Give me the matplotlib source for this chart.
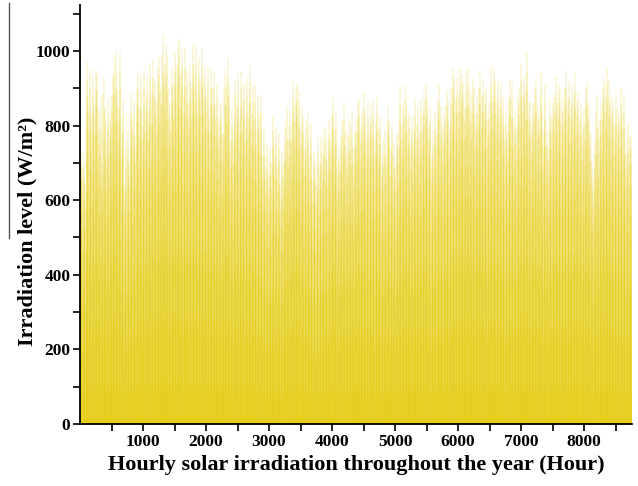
import numpy as np
import matplotlib
matplotlib.use("Agg")
import matplotlib.pyplot as plt
from matplotlib.lines import Line2D
from matplotlib.ticker import FixedLocator

# Daily peak irradiance (W/m^2), one value per day, grouped by month
jan = [730, 690, 725, 640, 971, 880, 949, 820, 931, 860, 949, 940, 790, 877, 700, 931,
       850, 760, 873, 810, 882, 930, 980, 996, 900, 850, 998, 780, 868, 640, 761]
feb = [788, 700, 886, 820, 868, 770, 900, 944, 850, 935, 800, 949, 870, 931, 840, 971,
       890, 976, 920, 860, 958, 985, 900, 1043, 950, 1016, 989, 900]
mar = [830, 953, 910, 994, 960, 1011, 1034, 940, 1007, 880, 1007, 950, 860, 967, 900, 1016,
       940, 1011, 870, 980, 920, 1007, 930, 958, 880, 958, 820, 949, 900, 944, 860]
apr = [913, 800, 851, 860, 780, 949, 900, 980, 913, 760, 842, 780, 922, 850, 940, 820,
       944, 870, 913, 800, 927, 860, 962, 830, 904, 909, 790, 882, 820, 877]
may = [720, 797, 690, 752, 660, 743, 700, 828, 740, 797, 690, 779, 640, 730, 700, 788,
       851, 760, 842, 800, 918, 850, 904, 913, 891, 790, 846, 824, 740, 815, 837]
jun = [720, 806, 660, 725, 708, 640, 766, 700, 770, 720, 797, 788, 710, 815, 760, 828,
       873, 790, 833, 700, 748, 760, 815, 860, 788, 720, 815, 770, 842, 740]
jul = [779, 824, 860, 873, 790, 840, 891, 828, 760, 860, 800, 851, 868, 760, 806, 877,
       790, 824, 700, 761, 788, 720, 851, 815, 740, 806, 752, 690, 779, 775, 904]
aug = [800, 846, 868, 909, 820, 833, 760, 824, 790, 873, 800, 851, 780, 868, 830, 891,
       913, 877, 800, 851, 720, 788, 837, 780, 860, 909, 851, 790, 828, 850, 895]
sep = [864, 800, 900, 953, 931, 870, 927, 880, 958, 935, 913, 850, 940, 958, 895, 840,
       927, 900, 830, 877, 900, 949, 880, 927, 886, 904, 820, 860, 958, 880]
oct_ = [958, 927, 860, 922, 850, 913, 877, 800, 842, 780, 870, 922, 913, 820, 842, 790,
        873, 900, 967, 880, 931, 909, 994, 860, 864, 800, 860, 900, 931, 851, 820]
nov = [944, 833, 780, 909, 788, 740, 868, 820, 860, 877, 935, 860, 909, 895, 840, 877,
       900, 949, 870, 918, 850, 909, 880, 940, 868, 891, 820, 860, 790, 846]
dec = [900, 913, 855, 780, 708, 650, 761, 882, 800, 815, 860, 900, 927, 880, 958, 922,
       860, 877, 851, 800, 886, 846, 820, 900, 830, 882, 761, 720, 806, 770, 775]

# Share of the daily peak reached in each hour of the day (00:00 .. 23:00)
hourly_profile = [0, 0, 0, 0, 0, 0, 0.02, 0.10, 0.26, 0.45, 0.64, 0.82,
                  0.95, 1.0, 0.90, 0.72, 0.50, 0.30, 0.12, 0.02, 0, 0, 0, 0]

x_ticks = [1000, 2000, 3000, 4000, 5000, 6000, 7000, 8000]
y_ticks = [0, 200, 400, 600, 800, 1000]

daily_peak = np.array(jan + feb + mar + apr + may + jun + jul + aug + sep + oct_ + nov + dec, float)
irradiance = (daily_peak[:, None] * np.array(hourly_profile)[None, :]).ravel()
hours = np.arange(irradiance.size)
lit = irradiance > 0

plt.rcParams["font.family"] = ["Liberation Serif", "DejaVu Serif"]
plt.rcParams["font.weight"] = "bold"

fig = plt.figure(figsize=(6.38, 4.86), dpi=100)
ax = fig.add_axes([80 / 638, 62 / 486, 552 / 638, 419 / 486])

# one translucent stroke per hour; overlapping hours build up the colour
ax.vlines(hours[lit] + 0.5, 0, irradiance[lit], colors="#e6cd10", alpha=0.14,
          linewidth=1.44, antialiased=False)

ax.set_xlim(0, 8760)
ax.set_ylim(0, 1123)
ax.xaxis.set_major_locator(FixedLocator(x_ticks))
ax.xaxis.set_minor_locator(FixedLocator([500 + 1000 * i for i in range(9)]))
ax.yaxis.set_major_locator(FixedLocator(y_ticks))
ax.yaxis.set_minor_locator(FixedLocator([100 + 200 * i for i in range(6)]))

for side in ("top", "right"):
    ax.spines[side].set_visible(False)
for side in ("left", "bottom"):
    ax.spines[side].set_linewidth(1.3)
    ax.spines[side].set_zorder(3)

ax.tick_params(which="both", direction="out", length=5, width=1.2,
               labelsize=12.5, pad=2)
for lab in ax.get_xticklabels() + ax.get_yticklabels():
    lab.set_fontweight("bold")

ax.set_xlabel("Hourly solar irradiation throughout the year (Hour)",
              fontsize=16, fontweight="bold")
ax.set_ylabel("Irradiation level (W/m²)", fontsize=16, fontweight="bold")
ax.xaxis.set_label_coords(0.5, -0.075)
ax.yaxis.set_label_coords(-0.077, 0.46)

fig.add_artist(Line2D([9 / 638, 9 / 638], [1 - 3 / 486, 1 - 238 / 486],
                      color="#555555", linewidth=1.0))

fig.savefig("out.png", dpi=100)
